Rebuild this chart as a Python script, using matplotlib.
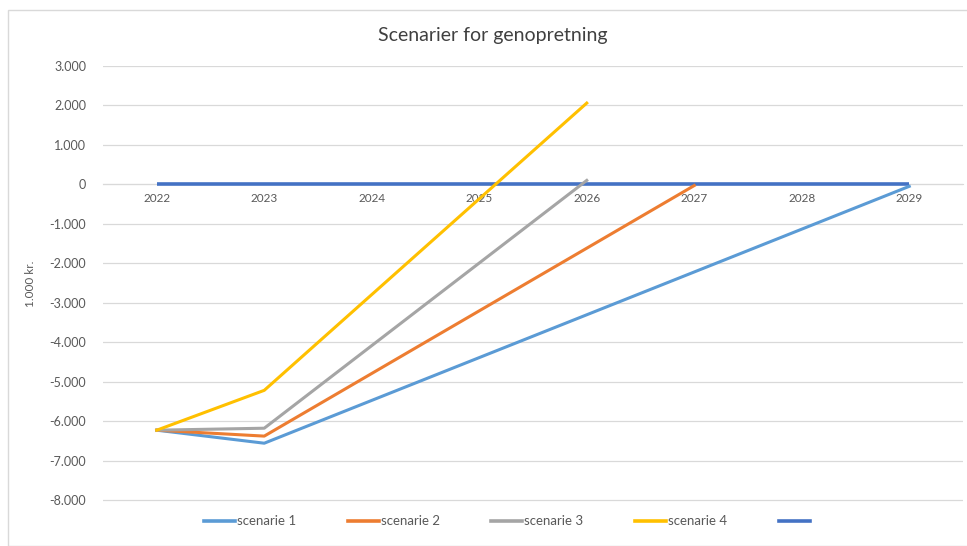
import matplotlib.pyplot as plt
from matplotlib.lines import Line2D
from matplotlib.ticker import FuncFormatter
from matplotlib.patches import Rectangle

plt.rcParams['font.family'] = ['Lato', 'DejaVu Sans']

years = [2022, 2023, 2024, 2025, 2026, 2027, 2028, 2029]

# known points (straight segments in between)
s1_x = [2022, 2023, 2029]
s1_y = [-6230, -6560, -50]
s2_x = [2022, 2023, 2027]
s2_y = [-6230, -6380, -30]
s3_x = [2022, 2023, 2026]
s3_y = [-6230, -6180, 100]
s4_x = [2022, 2023, 2026]
s4_y = [-6230, -5220, 2060]
base_x = [2022, 2029]
base_y = [0, 0]

labels = ['scenarie 1', 'scenarie 2', 'scenarie 3', 'scenarie 4', ' ']
colors = ['#5B9BD5', '#ED7D31', '#A5A5A5', '#FFC000', '#4472C4']
grey = '#595959'

fig = plt.figure(figsize=(9.67, 5.46), dpi=100)
ax = fig.add_axes([103 / 967, 1 - 502 / 546, 860 / 967, 436 / 546])

ax.plot(base_x, base_y, color=colors[4], lw=2.6, zorder=3, solid_capstyle='butt')
ax.plot(s1_x, s1_y, color=colors[0], lw=2.2, zorder=4)
ax.plot(s2_x, s2_y, color=colors[1], lw=2.2, zorder=4)
ax.plot(s3_x, s3_y, color=colors[2], lw=2.2, zorder=4)
ax.plot(s4_x, s4_y, color=colors[3], lw=2.2, zorder=4)

ax.set_xlim(2021.5, 2029.5)
ax.set_ylim(-8050, 3000)
ax.set_yticks(range(-8000, 3001, 1000))
ax.yaxis.set_major_formatter(FuncFormatter(lambda v, p: f'{int(v):,}'.replace(',', '.')))
ax.set_xticks(years)
ax.grid(axis='y', color='#D9D9D9', lw=0.9)
ax.set_axisbelow(True)

for s in ['top', 'right', 'left']:
    ax.spines[s].set_visible(False)
ax.spines['bottom'].set_position(('data', 0))
ax.spines['bottom'].set_color('#D9D9D9')
ax.tick_params(axis='both', length=0, labelcolor=grey)
ax.tick_params(axis='x', pad=6, labelsize=8.5)
ax.tick_params(axis='y', pad=12, labelsize=9)

ax.set_ylabel('1.000 kr.', fontsize=8.5, color=grey, labelpad=10)
fig.text(0.51, 0.935, 'Scenarier for genopretning', ha='center', va='center',
         fontsize=14, color='#404040')

handles = [Line2D([], [], color=c, lw=2.6) for c in colors]
fig.legend(handles, labels, loc='center', bbox_to_anchor=(0.527, 0.045), ncol=5,
           frameon=False, fontsize=9.5, labelcolor=grey, handlelength=2.35,
           handletextpad=0.15, columnspacing=3.9)

fig.patches.append(Rectangle((8 / 967, 0), 1, 1 - 10 / 546, transform=fig.transFigure,
                             fill=False, edgecolor='#D9D9D9', lw=1))

fig.savefig('out.png', dpi=100)
